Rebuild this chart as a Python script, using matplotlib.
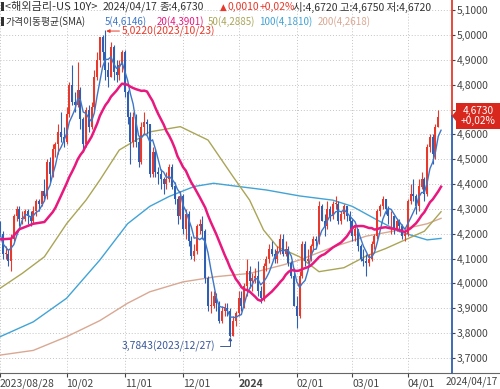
import numpy as np
import pandas as pd
import matplotlib
matplotlib.use("Agg")
import matplotlib.pyplot as plt
from matplotlib.ticker import FuncFormatter
from matplotlib.patches import Polygon, Rectangle
from matplotlib.lines import Line2D

plt.rcParams['font.family'] = ['Noto Sans CJK KR', 'DejaVu Sans']

# 거래일 (미국 채권시장 휴장일 제외)
holidays = ['2023-09-04', '2023-10-09', '2023-11-23', '2023-12-25',
            '2024-01-01', '2024-01-15', '2024-02-19', '2024-03-29']
dates = pd.bdate_range('2023-08-28', '2024-04-17')
dates = dates[~dates.isin(pd.to_datetime(holidays))]

opens = [4.24, 4.20, 4.12, 4.12, 4.09, 4.18, 4.27, 4.30, 4.26, 4.26,
         4.29, 4.27, 4.25, 4.29, 4.33, 4.32, 4.37, 4.35, 4.49, 4.44,
         4.54, 4.56, 4.61, 4.59, 4.57, 4.68, 4.80, 4.73, 4.72, 4.78,
         4.66, 4.56, 4.70, 4.63, 4.71, 4.83, 4.90, 4.99, 4.93, 4.86,
         4.83, 4.95, 4.85, 4.84, 4.88, 4.93, 4.77, 4.67, 4.57, 4.67,
         4.57, 4.49, 4.63, 4.65, 4.64, 4.44, 4.53, 4.45, 4.44, 4.42,
         4.40, 4.42, 4.47, 4.39, 4.34, 4.27, 4.35, 4.22, 4.28, 4.17,
         4.11, 4.13, 4.23, 4.24, 4.21, 4.02, 3.91, 3.91, 3.95, 3.92,
         3.85, 3.89, 3.90, 3.89, 3.79, 3.85, 3.88, 3.94, 3.91, 3.99,
         4.05, 4.01, 4.02, 4.03, 3.97, 3.94, 4.07, 4.10, 4.14, 4.12,
         4.10, 4.13, 4.18, 4.12, 4.14, 4.08, 4.03, 3.91, 3.87, 4.03,
         4.16, 4.09, 4.10, 4.15, 4.18, 4.17, 4.31, 4.25, 4.23, 4.30,
         4.27, 4.32, 4.32, 4.25, 4.28, 4.31, 4.27, 4.25, 4.19, 4.22,
         4.15, 4.10, 4.09, 4.08, 4.10, 4.16, 4.19, 4.29, 4.31, 4.34,
         4.30, 4.27, 4.27, 4.22, 4.25, 4.23, 4.19, 4.20, 4.33, 4.36,
         4.35, 4.31, 4.39, 4.42, 4.36, 4.55, 4.59, 4.52, 4.63, 4.672]
highs = [4.25, 4.21, 4.15, 4.14, 4.20, 4.28, 4.31, 4.31, 4.29, 4.30,
         4.30, 4.29, 4.31, 4.34, 4.34, 4.37, 4.42, 4.50, 4.51, 4.56,
         4.57, 4.64, 4.69, 4.63, 4.71, 4.81, 4.88, 4.77, 4.89, 4.79,
         4.67, 4.71, 4.72, 4.73, 4.86, 4.93, 4.99, 5.00, 5.022, 4.89,
         4.97, 4.96, 4.90, 4.90, 4.94, 4.94, 4.78, 4.69, 4.69, 4.68,
         4.59, 4.65, 4.69, 4.66, 4.64, 4.55, 4.54, 4.47, 4.46, 4.43,
         4.45, 4.48, 4.48, 4.41, 4.35, 4.37, 4.36, 4.30, 4.29, 4.19,
         4.16, 4.24, 4.26, 4.27, 4.22, 4.03, 3.97, 3.97, 3.96, 3.93,
         3.91, 3.92, 3.92, 3.90, 3.87, 3.89, 3.97, 3.97, 4.00, 4.10,
         4.07, 4.04, 4.06, 4.09, 3.99, 4.08, 4.11, 4.16, 4.17, 4.14,
         4.15, 4.20, 4.20, 4.17, 4.15, 4.09, 4.06, 3.95, 4.05, 4.17,
         4.17, 4.14, 4.16, 4.19, 4.19, 4.33, 4.32, 4.28, 4.33, 4.31,
         4.33, 4.35, 4.33, 4.29, 4.32, 4.31, 4.29, 4.26, 4.23, 4.22,
         4.16, 4.14, 4.12, 4.12, 4.17, 4.20, 4.30, 4.32, 4.35, 4.34,
         4.31, 4.29, 4.27, 4.26, 4.26, 4.24, 4.22, 4.34, 4.40, 4.42,
         4.36, 4.42, 4.45, 4.43, 4.56, 4.60, 4.60, 4.64, 4.70, 4.675]
lows = [4.19, 4.10, 4.10, 4.07, 4.05, 4.17, 4.25, 4.23, 4.24, 4.25,
        4.24, 4.23, 4.24, 4.27, 4.29, 4.31, 4.33, 4.34, 4.41, 4.43,
        4.51, 4.52, 4.57, 4.55, 4.56, 4.67, 4.72, 4.69, 4.71, 4.62,
        4.53, 4.55, 4.61, 4.62, 4.70, 4.82, 4.87, 4.90, 4.82, 4.79,
        4.83, 4.82, 4.81, 4.82, 4.85, 4.75, 4.64, 4.48, 4.55, 4.55,
        4.47, 4.48, 4.60, 4.60, 4.43, 4.43, 4.43, 4.40, 4.38, 4.36,
        4.38, 4.41, 4.38, 4.32, 4.24, 4.26, 4.20, 4.18, 4.15, 4.10,
        4.09, 4.12, 4.20, 4.18, 4.00, 3.89, 3.88, 3.90, 3.89, 3.84,
        3.84, 3.87, 3.87, 3.7843, 3.79, 3.83, 3.87, 3.89, 3.90, 3.95,
        3.98, 3.97, 4.00, 3.95, 3.92, 3.93, 4.05, 4.08, 4.11, 4.08,
        4.08, 4.12, 4.11, 4.11, 4.07, 4.02, 3.91, 3.82, 3.86, 4.02,
        4.07, 4.08, 4.09, 4.13, 4.15, 4.16, 4.25, 4.19, 4.22, 4.25,
        4.26, 4.30, 4.24, 4.24, 4.26, 4.25, 4.22, 4.17, 4.17, 4.13,
        4.09, 4.07, 4.03, 4.07, 4.09, 4.14, 4.18, 4.27, 4.30, 4.28,
        4.24, 4.20, 4.20, 4.21, 4.21, 4.18, 4.17, 4.19, 4.32, 4.33,
        4.28, 4.29, 4.38, 4.33, 4.35, 4.53, 4.48, 4.50, 4.63, 4.672]
closes = [4.20, 4.12, 4.12, 4.09, 4.18, 4.27, 4.30, 4.26, 4.26, 4.29,
          4.27, 4.25, 4.29, 4.33, 4.32, 4.37, 4.35, 4.49, 4.44, 4.54,
          4.56, 4.61, 4.59, 4.57, 4.68, 4.80, 4.73, 4.72, 4.78, 4.66,
          4.56, 4.70, 4.63, 4.71, 4.83, 4.90, 4.99, 4.93, 4.86, 4.83,
          4.95, 4.85, 4.84, 4.88, 4.93, 4.77, 4.67, 4.57, 4.67, 4.57,
          4.49, 4.63, 4.65, 4.64, 4.44, 4.53, 4.45, 4.44, 4.42, 4.40,
          4.42, 4.47, 4.39, 4.34, 4.27, 4.35, 4.22, 4.28, 4.17, 4.11,
          4.13, 4.23, 4.24, 4.21, 4.02, 3.91, 3.91, 3.95, 3.92, 3.85,
          3.89, 3.90, 3.89, 3.79, 3.85, 3.88, 3.94, 3.91, 3.99, 4.05,
          4.01, 4.02, 4.03, 3.97, 3.94, 4.07, 4.10, 4.14, 4.12, 4.10,
          4.13, 4.18, 4.12, 4.14, 4.08, 4.03, 3.91, 3.87, 4.03, 4.16,
          4.09, 4.10, 4.15, 4.18, 4.17, 4.31, 4.25, 4.23, 4.30, 4.27,
          4.32, 4.32, 4.25, 4.28, 4.31, 4.27, 4.25, 4.19, 4.22, 4.15,
          4.10, 4.09, 4.08, 4.10, 4.16, 4.19, 4.29, 4.31, 4.34, 4.30,
          4.27, 4.27, 4.22, 4.25, 4.23, 4.19, 4.20, 4.33, 4.36, 4.35,
          4.31, 4.39, 4.42, 4.36, 4.55, 4.59, 4.52, 4.63, 4.67, 4.673]

# 화면 왼쪽 끝 이전 구간의 20일선
sma20_head_idx = [0, 4, 7, 12, 16]
sma20_head_val = [4.177, 4.18, 4.218, 4.24, 4.247]

# 장기 이동평균선
sma50_idx = [0, 8, 16, 24, 31, 36, 43, 54, 65, 75, 84, 90, 95, 100, 108,
             115, 124, 132, 139, 147, 153, 159]
sma50_val = [3.98, 4.04, 4.107, 4.24, 4.335, 4.416, 4.537, 4.61, 4.631, 4.577,
             4.43, 4.335, 4.215, 4.147, 4.107, 4.047, 4.063, 4.11, 4.14, 4.18,
             4.21, 4.2885]
sma100_idx = [0, 12, 24, 36, 46, 54, 61, 70, 77, 86, 96, 108, 120, 127, 136,
              144, 148, 154, 159]
sma100_val = [3.785, 3.845, 3.94, 4.094, 4.24, 4.31, 4.35, 4.39, 4.403, 4.39,
              4.376, 4.352, 4.335, 4.31, 4.255, 4.208, 4.195, 4.175, 4.181]
sma200_idx = [0, 12, 24, 36, 46, 54, 66, 78, 90, 102, 108, 120, 132, 144, 154, 159]
sma200_val = [3.711, 3.73, 3.785, 3.85, 3.92, 3.966, 4.006, 4.027, 4.04, 4.074,
              4.094, 4.146, 4.19, 4.215, 4.24, 4.2618]

tick_dates = ['2023-08-28', '2023-10-02', '2023-11-01', '2023-12-01',
              '2024-01-02', '2024-02-01', '2024-03-01', '2024-04-01']
tick_labels = ['2023/08/28', '10/02', '11/01', '12/01', '2024', '02/01', '03/01', '04/01']

RED = '#e8392a'
BLUE = '#2f5fb3'
DARK = '#333333'
C5, C20, C50, C100, C200 = '#3d76c8', '#e8187e', '#aaa556', '#41a3d6', '#d9a893'

o = np.array(opens)
h = np.array(highs)
l = np.array(lows)
c = np.array(closes)
x = np.arange(len(c))

sma5 = pd.Series(c).rolling(5, min_periods=1).mean()
sma20 = pd.Series(c).rolling(20).mean()
sma20_x = np.concatenate([sma20_head_idx, x[19:]])
sma20_y = np.concatenate([sma20_head_val, sma20.values[19:]])


def fx(px):
    return px / 500


def fy(py):
    return 1 - py / 389


fig = plt.figure(figsize=(5.0, 3.89), dpi=100)
ax = fig.add_axes([0, fy(373), fx(452), 373 / 389])

ax.plot(sma200_idx, sma200_val, color=C200, lw=1.0, zorder=2)
ax.plot(sma100_idx, sma100_val, color=C100, lw=1.0, zorder=2)
ax.plot(sma50_idx, sma50_val, color=C50, lw=1.0, zorder=2)

up = c >= o
cols = np.where(up, RED, BLUE)
ax.vlines(x, l, h, colors=cols, lw=0.8, zorder=3)
ax.bar(x, np.maximum(np.abs(c - o), 0.003), bottom=np.minimum(o, c),
       width=0.72, color=cols, linewidth=0, zorder=3)

ax.plot(x, sma5, color=C5, lw=1.0, zorder=4)
ax.plot(sma20_x, sma20_y, color=C20, lw=1.8, zorder=4)

ax.set_xlim(1 / 2.78, 453 / 2.78)
ax.set_ylim(3.639, 5.141)


# 축 / 눈금 (4,7000 은 현재가 박스에 가려짐)
def price_fmt(v, p):
    if abs(v - 4.7) < 1e-6:
        return ''
    return f"{v:.4f}".replace('.', ',')


ax.set_yticks(np.round(np.arange(3.7, 5.101, 0.1), 1))
ax.yaxis.set_major_formatter(FuncFormatter(price_fmt))
ax.yaxis.tick_right()
ax.tick_params(axis='y', direction='out', length=2.5, pad=1, labelsize=7.5,
               colors='#444444')

tick_pos = [dates.get_loc(pd.Timestamp(d)) for d in tick_dates]
ax.set_xticks(tick_pos)
ax.set_xticklabels(tick_labels)
for t in ax.get_xticklabels():
    t.set_ha('left')
    if t.get_text() == '2024':
        t.set_fontweight('bold')
ax.tick_params(axis='x', direction='out', length=3, pad=1, labelsize=7.5,
               colors='#444444')

ax.grid(True, ls=(0, (1, 2)), color='#c4c4c4', lw=0.7)
ax.set_axisbelow(True)
for s in ['left', 'top', 'right']:
    ax.spines[s].set_visible(False)
ax.spines['bottom'].set_color('#666666')
ax.spines['bottom'].set_linewidth(0.8)
fig.add_artist(Line2D([fx(452), 1], [fy(373), fy(373)], color='#666666', lw=0.8))
fig.text(fx(446), fy(382), '2024/04/17', fontsize=7.2, color='#444444',
         ha='left', va='center')

# 오른쪽 가격축 선 (현재가 위 빨강, 아래 파랑)
last = c[-1]
ax.plot([1, 1], [last, 5.141], transform=ax.get_yaxis_transform(), color=RED,
        lw=1.3, clip_on=False, zorder=6)
ax.plot([1, 1], [3.639, last], transform=ax.get_yaxis_transform(), color=BLUE,
        lw=1.3, clip_on=False, zorder=6)

# 현재가 박스
box = Polygon([[fx(452), fy(116)], [fx(456), fy(111)], [fx(456), fy(103)],
               [fx(500), fy(103)], [fx(500), fy(129)], [fx(456), fy(129)],
               [fx(456), fy(121)]], closed=True, transform=fig.transFigure,
              fc='#d8281e', ec='none', zorder=10)
fig.add_artist(box)
fig.text(fx(478), fy(116), '4,6730\n+0,02%', color='white', fontsize=7.3,
         ha='center', va='center', linespacing=0.9, zorder=11)

# 최고 / 최저 표시
ax.annotate('5,0220(2023/10/23)', xy=(38.3, 5.016), xytext=(11.5, 0),
            textcoords='offset points', color=RED, fontsize=7.5, ha='left',
            va='center',
            arrowprops=dict(arrowstyle='-|>', color=RED, lw=0.7,
                            mutation_scale=5, shrinkA=0, shrinkB=0))
ax.annotate('3,7843(2023/12/27)', xy=(83, 3.7843), xytext=(-10.5, -6.5),
            textcoords='offset points', color='#3a5a9a', fontsize=7.5,
            ha='right', va='center',
            arrowprops=dict(arrowstyle='-|>', color='#3a5a9a', lw=0.7,
                            mutation_scale=5, shrinkA=1, shrinkB=0,
                            relpos=(1, 0.5),
                            connectionstyle='angle,angleA=0,angleB=90,rad=0'))

# 상단 범례 글자
for py in (2, 17):
    fig.add_artist(Rectangle((fx(1), fy(py + 9)), fx(2.5), 9 / 389,
                             transform=fig.transFigure, fc=DARK, ec='none'))

line1 = [(5, '<해외금리-US 10Y>', DARK, 8.0), (103, '2024/04/17', DARK, 7.5),
         (159, '종:4,6730', DARK, 7.5), (227, '0,0010', RED, 7.5),
         (260, '+0,02%', RED, 7.5),
         (293, '시:4,6720 고:4,6750 저:4,6720', DARK, 7.5)]
line2 = [(5, '가격이동평균(SMA)', DARK), (105, '5(4,6146)', C5),
         (157, '20(4,3901)', C20), (208, '50(4,2885)', C50),
         (259, '100(4,1810)', C100), (318, '200(4,2618)', C200)]
for px, txt, col, size in line1:
    fig.text(fx(px), fy(7), txt, color=col, fontsize=size, ha='left', va='center')
fig.text(fx(220), fy(7), '▲', color=RED, fontsize=6.3, ha='left', va='center',
         family='DejaVu Sans')
for px, txt, col in line2:
    fig.text(fx(px), fy(22), txt, color=col, fontsize=7.0, ha='left', va='center')

fig.savefig('out.png', dpi=100, facecolor='white')
